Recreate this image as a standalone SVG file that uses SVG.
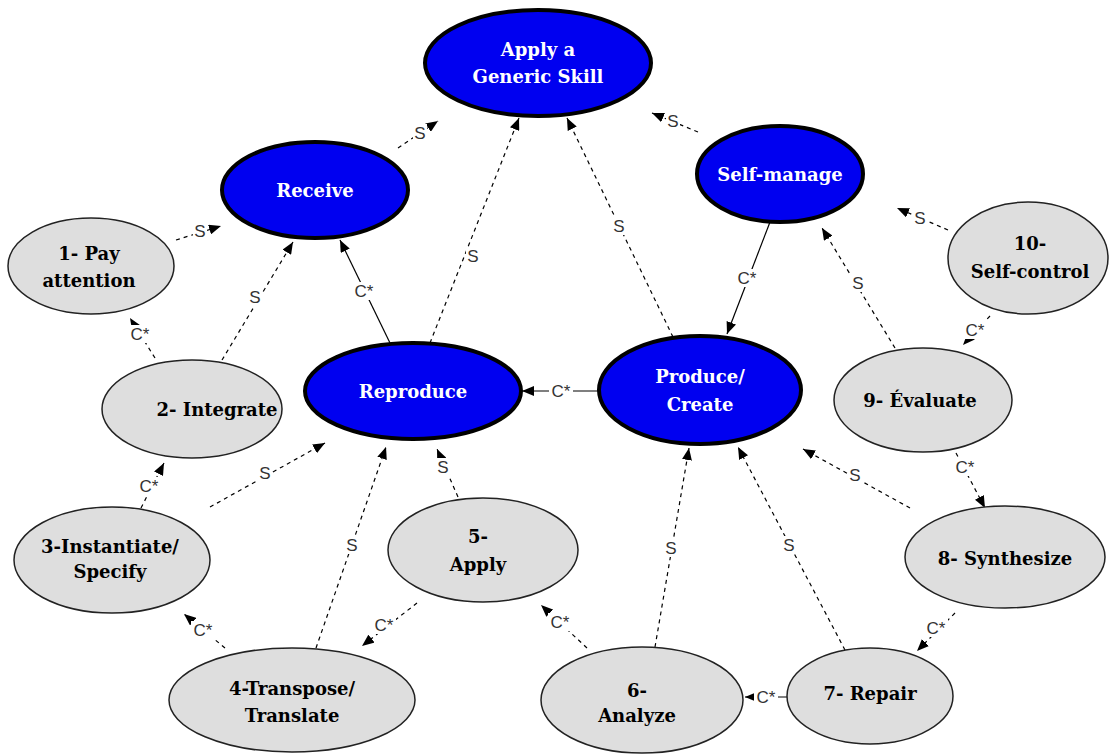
<svg xmlns="http://www.w3.org/2000/svg" width="1109" height="754" viewBox="0 0 1109 754">
  <style>
    .main ellipse { fill: #0000f0; stroke: #000; stroke-width: 4; }
    .main text { fill: #fff; font-family: "DejaVu Serif", "Liberation Serif", serif; font-weight: bold; font-size: 18px; text-anchor: middle; }
    .sub ellipse { fill: #dedede; stroke: #222; stroke-width: 1.5; }
    .sub text { fill: #000; font-family: "DejaVu Serif", "Liberation Serif", serif; font-weight: bold; font-size: 18px; text-anchor: middle; }
    .edge { stroke: #000; stroke-width: 1.2; fill: none; marker-end: url(#arrow); }
    .dash { stroke-dasharray: 4 4; }
    .lbl { font-family: "Liberation Sans", Arial, sans-serif; font-size: 17px; fill: #333; text-anchor: middle; dominant-baseline: central; }
    .bg { fill: #fff; }
  </style>
  <defs>
    <marker id="arrow" markerUnits="userSpaceOnUse" markerWidth="12" markerHeight="10" refX="12" refY="5" orient="auto">
      <path d="M0,0 L12,5 L0,10 z" fill="#000"/>
    </marker>
    <!-- label backplates: S is narrow, C* is wider -->
    <rect id="bgS" class="bg" x="-7" y="-9" width="14" height="18"/>
    <rect id="bgC" class="bg" x="-12" y="-9" width="24" height="18"/>
  </defs>
  <rect width="1109" height="754" fill="#fff"/>

  <g id="connectors">
    <line class="edge dash" x1="398" y1="148" x2="438" y2="121"/>
    <line class="edge dash" x1="430" y1="343" x2="519" y2="118"/>
    <line class="edge dash" x1="673" y1="337" x2="567" y2="118"/>
    <line class="edge dash" x1="698" y1="132" x2="652" y2="113"/>
    <line class="edge dash" x1="176" y1="240" x2="221" y2="226"/>
    <line class="edge dash" x1="222" y1="360" x2="293" y2="242"/>
    <line class="edge" x1="390" y1="343" x2="340" y2="240"/>
    <line class="edge dash" x1="155" y1="358" x2="130" y2="318"/>
    <line class="edge dash" x1="141" y1="508" x2="164" y2="463"/>
    <line class="edge dash" x1="210" y1="507" x2="325" y2="443"/>
    <line class="edge dash" x1="225" y1="648" x2="184" y2="614"/>
    <line class="edge dash" x1="316" y1="648" x2="386" y2="447"/>
    <line class="edge dash" x1="458" y1="497" x2="437" y2="449"/>
    <line class="edge dash" x1="417" y1="603" x2="362" y2="646"/>
    <line class="edge dash" x1="587" y1="648" x2="541" y2="605"/>
    <line class="edge dash" x1="655" y1="647" x2="689" y2="448"/>
    <line class="edge dash" x1="845" y1="650" x2="738" y2="447"/>
    <line class="edge" x1="788" y1="697" x2="745" y2="697"/>
    <line class="edge dash" x1="910" y1="508" x2="803" y2="449"/>
    <line class="edge dash" x1="955" y1="613" x2="917" y2="651"/>
    <line class="edge dash" x1="956" y1="453" x2="985" y2="508"/>
    <line class="edge dash" x1="895" y1="348" x2="822" y2="228"/>
    <line class="edge dash" x1="990" y1="316" x2="963" y2="345"/>
    <line class="edge dash" x1="948" y1="230" x2="897" y2="208"/>
    <line class="edge" x1="770" y1="222" x2="727" y2="334"/>
    <line class="edge" x1="599" y1="391" x2="522" y2="391"/>

    <use href="#bgS" x="420" y="133"/><text class="lbl" x="420" y="133">S</text>
    <use href="#bgS" x="473" y="256"/><text class="lbl" x="473" y="256">S</text>
    <use href="#bgS" x="619" y="226"/><text class="lbl" x="619" y="226">S</text>
    <use href="#bgS" x="673" y="121"/><text class="lbl" x="673" y="121">S</text>
    <use href="#bgS" x="200" y="231"/><text class="lbl" x="200" y="231">S</text>
    <use href="#bgS" x="255" y="297"/><text class="lbl" x="255" y="297">S</text>
    <use href="#bgC" x="364" y="291"/><text class="lbl" x="364" y="291">C*</text>
    <use href="#bgC" x="140" y="334"/><text class="lbl" x="140" y="334">C*</text>
    <use href="#bgC" x="149" y="486"/><text class="lbl" x="149" y="486">C*</text>
    <use href="#bgS" x="265" y="473"/><text class="lbl" x="265" y="473">S</text>
    <use href="#bgC" x="203" y="630"/><text class="lbl" x="203" y="630">C*</text>
    <use href="#bgS" x="352" y="545"/><text class="lbl" x="352" y="545">S</text>
    <use href="#bgS" x="443" y="467"/><text class="lbl" x="443" y="467">S</text>
    <use href="#bgC" x="384" y="625"/><text class="lbl" x="384" y="625">C*</text>
    <use href="#bgC" x="560" y="622"/><text class="lbl" x="560" y="622">C*</text>
    <use href="#bgS" x="671" y="548"/><text class="lbl" x="671" y="548">S</text>
    <use href="#bgS" x="789" y="545"/><text class="lbl" x="789" y="545">S</text>
    <use href="#bgC" x="766" y="697"/><text class="lbl" x="766" y="697">C*</text>
    <use href="#bgS" x="855" y="475"/><text class="lbl" x="855" y="475">S</text>
    <use href="#bgC" x="936" y="628"/><text class="lbl" x="936" y="628">C*</text>
    <use href="#bgC" x="965" y="467"/><text class="lbl" x="965" y="467">C*</text>
    <use href="#bgS" x="858" y="283"/><text class="lbl" x="858" y="283">S</text>
    <use href="#bgC" x="975" y="330"/><text class="lbl" x="975" y="330">C*</text>
    <use href="#bgS" x="920" y="218"/><text class="lbl" x="920" y="218">S</text>
    <use href="#bgC" x="747" y="278"/><text class="lbl" x="747" y="278">C*</text>
    <use href="#bgC" x="561" y="391"/><text class="lbl" x="561" y="391">C*</text>
  </g>

  <g id="apply-generic-skill" class="main">
    <ellipse cx="538" cy="63" rx="113" ry="53"/>
    <text x="538" y="56">Apply a</text>
    <text x="538" y="83">Generic Skill</text>
  </g>
  <g id="receive" class="main">
    <ellipse cx="315" cy="190" rx="93" ry="48"/>
    <text x="315" y="197">Receive</text>
  </g>
  <g id="self-manage" class="main">
    <ellipse cx="780" cy="174" rx="83" ry="48"/>
    <text x="780" y="181">Self-manage</text>
  </g>
  <g id="reproduce" class="main">
    <ellipse cx="413" cy="391" rx="108" ry="48"/>
    <text x="413" y="398">Reproduce</text>
  </g>
  <g id="produce-create" class="main">
    <ellipse cx="700" cy="390" rx="101" ry="54"/>
    <text x="700" y="383">Produce/</text>
    <text x="700" y="411">Create</text>
  </g>

  <g id="pay-attention" class="sub">
    <ellipse cx="91" cy="266" rx="83" ry="48"/>
    <text x="89" y="260">1- Pay</text>
    <text x="89" y="287">attention</text>
  </g>
  <g id="integrate" class="sub">
    <ellipse cx="192" cy="409" rx="90" ry="49"/>
    <text x="217" y="416">2- Integrate</text>
  </g>
  <g id="instantiate-specify" class="sub">
    <ellipse cx="112" cy="560" rx="98" ry="53"/>
    <text x="110" y="553">3-Instantiate/</text>
    <text x="110" y="578">Specify</text>
  </g>
  <g id="transpose-translate" class="sub">
    <ellipse cx="292" cy="700" rx="123" ry="52"/>
    <text x="292" y="695">4-Transpose/</text>
    <text x="292" y="722">Translate</text>
  </g>
  <g id="apply" class="sub">
    <ellipse cx="483" cy="550" rx="95" ry="52"/>
    <text x="478" y="543">5-</text>
    <text x="478" y="571">Apply</text>
  </g>
  <g id="analyze" class="sub">
    <ellipse cx="642" cy="700" rx="101" ry="53"/>
    <text x="637" y="697">6-</text>
    <text x="637" y="722">Analyze</text>
  </g>
  <g id="repair" class="sub">
    <ellipse cx="870" cy="696" rx="83" ry="48"/>
    <text x="870" y="700">7- Repair</text>
  </g>
  <g id="synthesize" class="sub">
    <ellipse cx="1005" cy="557" rx="100" ry="51"/>
    <text x="1005" y="565">8- Synthesize</text>
  </g>
  <g id="evaluate" class="sub">
    <ellipse cx="923" cy="400" rx="89" ry="52"/>
    <text x="920" y="407">9- Évaluate</text>
  </g>
  <g id="self-control" class="sub">
    <ellipse cx="1028" cy="258" rx="80" ry="56"/>
    <text x="1030" y="250">10-</text>
    <text x="1030" y="278">Self-control</text>
  </g>
</svg>
